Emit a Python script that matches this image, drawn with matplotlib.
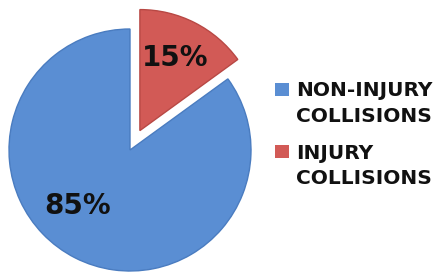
import matplotlib.pyplot as plt
from matplotlib.patches import Rectangle

labels = ["NON-INJURY\nCOLLISIONS", "INJURY\nCOLLISIONS"]
shares = [85, 15]
pct_text = ["85%", "15%"]
colors = ["#5a8ed3", "#d25a56"]
edges = ["#4a7cc0", "#b84844"]

fig = plt.figure(figsize=(4.37, 2.74), dpi=100)
ax = fig.add_axes([0, 0, 1, 1])

# big slice runs round the left from 12 o'clock, small slice pulled out on the right
wedges, _ = ax.pie(shares, colors=colors, startangle=90, counterclock=True,
                   explode=[0, 0.18], radius=1.0,
                   wedgeprops=dict(linewidth=1.0))
for w, ec in zip(wedges, edges):
    w.set_edgecolor(ec)

# percentage labels
label_pos = [(-0.43, -0.46), (0.37, 0.76)]
for (x, y), t in zip(label_pos, pct_text):
    ax.text(x, y, t, ha="center", va="center", fontsize=20,
            fontweight="bold", color="#111111")

# pixel-matched limits: pie centre at (130, 150) px, radius 121 px
ax.set_xlim(-130 / 121, 307 / 121)
ax.set_ylim(-124 / 121, 150 / 121)
ax.set_aspect("equal")
ax.axis("off")

# legend on the right
rows_y = [89.5, 151.5]
for (lab, c, py) in zip(labels, colors, rows_y):
    fig.patches.append(Rectangle((275 / 437, 1 - (py + 6.5) / 274), 14 / 437, 13 / 274,
                                 transform=fig.transFigure, facecolor=c,
                                 edgecolor="none"))
    fig.text(296 / 437, 1 - (py - 8) / 274, lab, ha="left", va="top",
             fontsize=14.5, fontweight="bold", color="#111111", linespacing=1.42)

fig.savefig("out.png", dpi=100)
